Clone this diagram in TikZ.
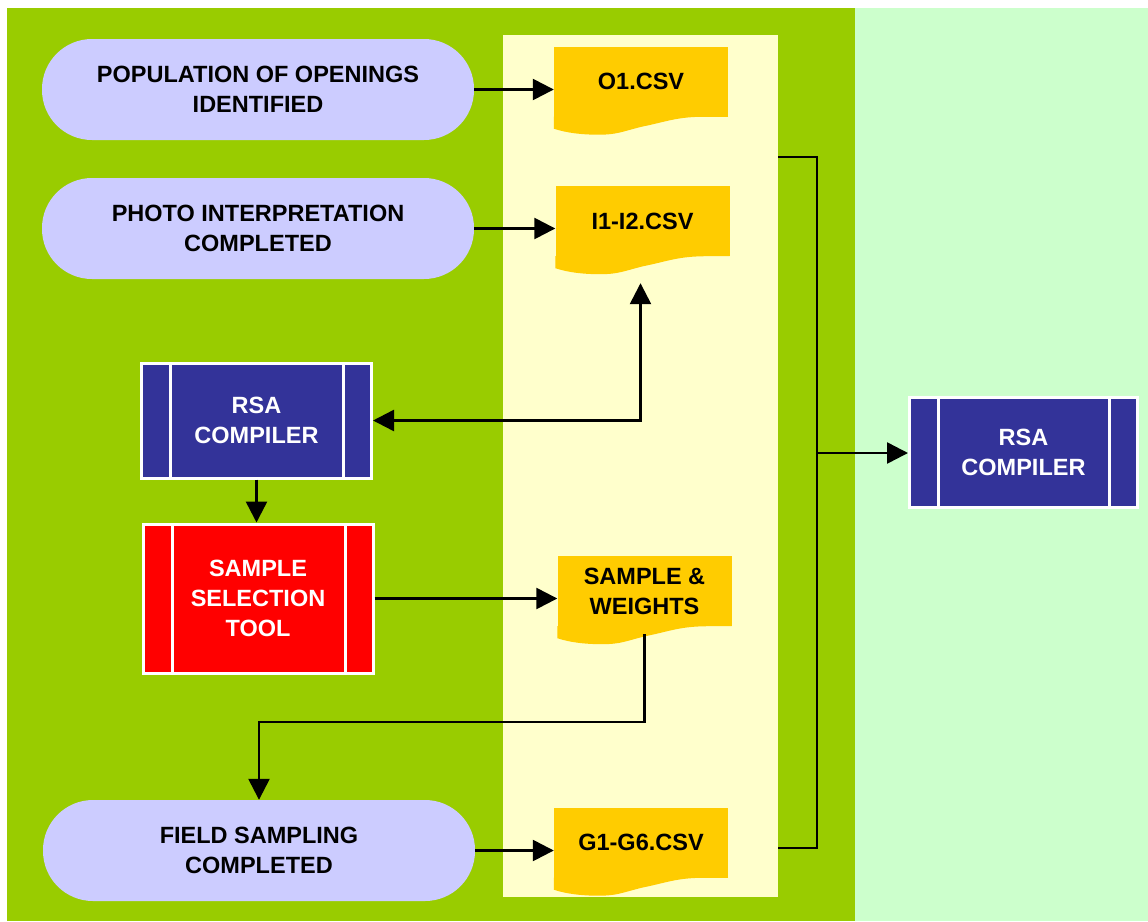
\documentclass[tikz,border=0pt]{standalone}
\usepackage{fontspec}
\setmainfont{Liberation Sans}
\usetikzlibrary{arrows.meta,calc,positioning}

\definecolor{leafgreen}{HTML}{99CC00}
\definecolor{mintgreen}{HTML}{CCFFCC}
\definecolor{paleyellow}{HTML}{FFFFCC}
\definecolor{fileorange}{HTML}{FFCC00}
\definecolor{lavender}{HTML}{CCCCFF}
\definecolor{navyblue}{HTML}{333399}

\tikzset{
	every node/.style={font=\fontsize{23.5}{30}\selectfont\bfseries},
	event/.style={fill=lavender, rounded corners=50pt, minimum width=432pt, minimum height=101pt, align=center},
	datafile/.style={fill=fileorange, minimum width=174pt, minimum height=70pt, inner sep=0pt, align=center},
	process/.style={draw=white, line width=3pt, minimum width=230pt, minimum height=115pt, text=white, align=center,
		path picture={
			\draw[white, line width=3pt] ([xshift=29pt]path picture bounding box.north west) -- ([xshift=29pt]path picture bounding box.south west);
			\draw[white, line width=3pt] ([xshift=-28pt]path picture bounding box.north east) -- ([xshift=-28pt]path picture bounding box.south east);
		}},
	link/.style={line width=2.5pt},
}

\begin{document}
\begin{tikzpicture}[x=1pt, y=1pt, >={Triangle[length=21pt,width=21pt]}]
		\useasboundingbox (0,0) rectangle (1148,-921);
		% panels
		\fill[leafgreen] (7,-8) rectangle (855,-921);
		\fill[mintgreen] (855,-8) rectangle (1148,-921);
		\fill[paleyellow] (503,-35) rectangle (778,-897);

		% events
		\node[event] (population) at (258,-89.5) {POPULATION OF OPENINGS\\IDENTIFIED};
		\node[event] (photo) at (258,-228.5) {PHOTO INTERPRETATION\\COMPLETED};
		\node[event] (field) at (259,-850.5) {FIELD SAMPLING\\COMPLETED};

		% files
		\node[datafile] (o1) at (641,-81.5) {O1.CSV};
		\node[datafile] (i1) at (642.5,-221) {I1-I2.CSV};
		\node[datafile] (weights) at (644.5,-591) {SAMPLE \&\\WEIGHTS};
		\node[datafile] (g1) at (641,-842.5) {G1-G6.CSV};
		\foreach \f in {o1,i1,weights,g1}
			\fill[fileorange] (\f.south east) -- ++(-22pt,0pt) .. controls +(-30pt,0pt) and +(25pt,5pt) .. ([xshift=88pt,yshift=-10pt]\f.south west) .. controls +(-20pt,-5pt) and +(18pt,0pt) .. ([xshift=45pt,yshift=-18pt]\f.south west) .. controls +(-18pt,0pt) and +(12pt,-4pt) .. ([yshift=-12pt]\f.south west) -- (\f.south west) -- cycle;

		% tools
		\node[process, fill=navyblue] (rsaleft) at (256.5,-420.5) {RSA\\COMPILER};
		\node[process, fill=red, minimum height=149pt] (selection) at (258,-598.5) {SAMPLE\\SELECTION\\TOOL};
		\node[process, fill=navyblue, minimum width=228pt, minimum height=110pt] (rsaright) at (1023.5,-452) {RSA\\COMPILER};

		% connectors
		\draw[link,->] (population.east) -- (population.east -| o1.west);
		\draw[link,->] (photo.east) -- (photo.east -| i1.west);
		\draw[link,->] (field.east) -- (field.east -| g1.west);
		\draw[link,->] (selection.east) -- (selection.east -| weights.west);
		\draw[link,->] (rsaleft.south) -- (rsaleft.south |- selection.north);
		\draw[link,<->] (rsaleft.east) -| ([xshift=-2pt,yshift=-27pt]i1.south);
		\draw[link,->] ([yshift=-8pt]weights.south) |- ([yshift=78pt]field.north) -- (field.north);

		\coordinate (bustop) at (778,-157);
		\coordinate (busbottom) at (778,-848);
		\coordinate (bus) at (817,-453);
		\draw[link] (bustop) -| (bus) |- (busbottom);
		\draw[link,->] (bus) -- (bus -| rsaright.west);
\end{tikzpicture}
\end{document}
